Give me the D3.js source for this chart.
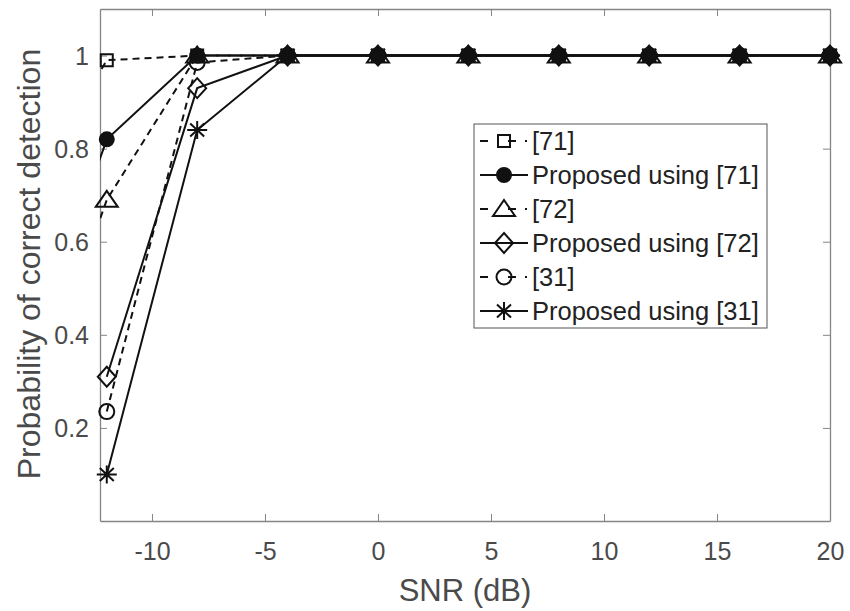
<!DOCTYPE html>
<html>
<head>
<meta charset="utf-8">
<script src="https://cdn.jsdelivr.net/npm/d3@7"></script>
<style>
  body { margin: 0; background: #fff; }
  text { font-family: "Liberation Sans", Arial, sans-serif; }
</style>
</head>
<body>
<div id="chart"></div>
<script>
// data
var snr = [-16, -12, -8, -4, 0, 4, 8, 12, 16, 20];
var ref71 = [0.66, 0.99, 1, 1, 1, 1, 1, 1, 1, 1];
var prop71 = [0.27, 0.82, 1, 1, 1, 1, 1, 1, 1, 1];
var ref72 = [0.14, 0.69, 1, 1, 1, 1, 1, 1, 1, 1];
var prop72 = [null, 0.31, 0.93, 1, 1, 1, 1, 1, 1, 1];
var ref31 = [null, 0.235, 0.985, 1, 1, 1, 1, 1, 1, 1];
var prop31 = [null, 0.10, 0.84, 1, 1, 1, 1, 1, 1, 1];

var legendLabels = ["[71]", "Proposed using [71]", "[72]", "Proposed using [72]", "[31]", "Proposed using [31]"];
var xTicks = [-10, -5, 0, 5, 10, 15, 20];
var yTicks = [0.2, 0.4, 0.6, 0.8, 1];

var series = [
  {values: ref71, marker: "square", dashed: true},
  {values: prop71, marker: "dot", dashed: false},
  {values: ref72, marker: "triangle", dashed: true},
  {values: prop72, marker: "diamond", dashed: false},
  {values: ref31, marker: "circle", dashed: true},
  {values: prop31, marker: "star", dashed: false}
];

var W = 850, H = 611;
var pL = 100, pR = 830, pT = 9, pB = 521;
var axisCol = "#858585", textCol = "#4a4a4a", ink = "#111";

var svg = d3.select("#chart").append("svg")
    .attr("width", W)
    .attr("height", H);

var xScale = d3.scaleLinear().domain([-12.3, 20]).range([pL, pR]);
var yScale = d3.scaleLinear().domain([0, 1.1]).range([pB, pT]);

svg.append("clipPath").attr("id", "plotclip")
  .append("rect")
    .attr("x", pL).attr("y", pT)
    .attr("width", pR - pL).attr("height", pB - pT);

// axes: box with inward ticks on all four sides
function styleAxis(g) {
  g.selectAll("path").attr("stroke", axisCol).attr("stroke-width", 1.3);
  g.selectAll("line").attr("stroke", axisCol).attr("stroke-width", 1);
  g.selectAll("text").attr("fill", textCol).style("font-size", "25px");
}
var fmt = function(d) { return String(d); };

svg.append("g")
  .attr("transform", "translate(0," + pB + ")")
  .call(d3.axisBottom(xScale).tickValues(xTicks).tickSizeInner(-7).tickSizeOuter(0).tickFormat(fmt))
  .call(styleAxis)
  .selectAll("text").attr("y", 39).attr("dy", null);
svg.append("g")
  .attr("transform", "translate(0," + pT + ")")
  .call(d3.axisTop(xScale).tickValues(xTicks).tickSizeInner(-7).tickSizeOuter(0).tickFormat(""))
  .call(styleAxis);
svg.append("g")
  .attr("transform", "translate(" + pL + ",0)")
  .call(d3.axisLeft(yScale).tickValues(yTicks).tickSizeInner(-7).tickSizeOuter(0).tickFormat(fmt))
  .call(styleAxis)
  .selectAll("text").attr("x", -11).attr("dy", "0.35em");
svg.append("g")
  .attr("transform", "translate(" + pR + ",0)")
  .call(d3.axisRight(yScale).tickValues(yTicks).tickSizeInner(-7).tickSizeOuter(0).tickFormat(""))
  .call(styleAxis);

// axis labels
svg.append("text")
  .attr("x", (pL + pR) / 2)
  .attr("y", 601)
  .attr("text-anchor", "middle")
  .attr("fill", textCol)
  .style("font-size", "31px")
  .text("SNR (dB)");
svg.append("text")
  .attr("transform", "translate(40,264) rotate(-90)")
  .attr("text-anchor", "middle")
  .attr("fill", textCol)
  .style("font-size", "32px")
  .text("Probability of correct detection");

// marker shapes
function markerPath(type) {
  if (type === "square") return "M-6,-6H6V6H-6Z";
  if (type === "dot") return "M7,0A7,7 0 1,1 -7,0A7,7 0 1,1 7,0Z";
  if (type === "circle") return "M7.5,0A7.5,7.5 0 1,1 -7.5,0A7.5,7.5 0 1,1 7.5,0Z";
  if (type === "triangle") return "M0,-9L11,7H-11Z";
  if (type === "diamond") return "M0,-10L9,0L0,10L-9,0Z";
  if (type === "star") return "M0,-9V9M-10,0H10M-7,-6.5L7,6.5M-7,6.5L7,-6.5";
}

var line = d3.line()
  .defined(function(d) { return d != null; })
  .x(function(d, i) { return xScale(snr[i]); })
  .y(function(d) { return yScale(d); });

var plot = svg.append("g").attr("clip-path", "url(#plotclip)");

series.forEach(function(s) {
  plot.append("path")
    .attr("d", line(s.values))
    .attr("fill", "none")
    .attr("stroke", ink)
    .attr("stroke-width", 2)
    .attr("stroke-dasharray", s.dashed ? "7,5" : null);

  var pts = [];
  for (var i = 0; i < snr.length; i++) {
    if (s.values[i] != null && snr[i] >= xScale.domain()[0]) pts.push([snr[i], s.values[i]]);
  }
  svg.append("g").selectAll("path")
    .data(pts)
    .enter()
    .append("path")
    .attr("transform", function(d) { return "translate(" + xScale(d[0]) + "," + yScale(d[1]) + ")"; })
    .attr("d", markerPath(s.marker))
    .attr("fill", s.marker === "dot" ? ink : "none")
    .attr("stroke", ink)
    .attr("stroke-width", 2);
});

// legend
var lgX = 474, lgY = 124, lgW = 293, lgH = 204, rowH = 34;
var legend = svg.append("g");
legend.append("rect")
  .attr("x", lgX).attr("y", lgY)
  .attr("width", lgW).attr("height", lgH)
  .attr("fill", "#fff")
  .attr("stroke", "#555")
  .attr("stroke-width", 1);

var rows = legend.selectAll("g.row")
  .data(series)
  .enter()
  .append("g")
  .attr("class", "row")
  .attr("transform", function(d, i) { return "translate(" + lgX + "," + (lgY + 17 + i * rowH) + ")"; });

rows.append("line")
  .attr("x1", 6).attr("x2", 54)
  .attr("y1", 0).attr("y2", 0)
  .attr("stroke", ink)
  .attr("stroke-width", 2)
  .attr("stroke-dasharray", function(d) { return d.dashed ? "8,20,8,9,2" : null; });
rows.append("path")
  .attr("transform", "translate(30,0)")
  .attr("d", function(d) { return markerPath(d.marker); })
  .attr("fill", function(d) { return d.marker === "dot" ? ink : "none"; })
  .attr("stroke", ink)
  .attr("stroke-width", 2);
rows.append("text")
  .attr("x", 58)
  .attr("y", 9)
  .attr("fill", "#222")
  .style("font-size", "25.5px")
  .text(function(d, i) { return legendLabels[i]; });
</script>
</body>
</html>
